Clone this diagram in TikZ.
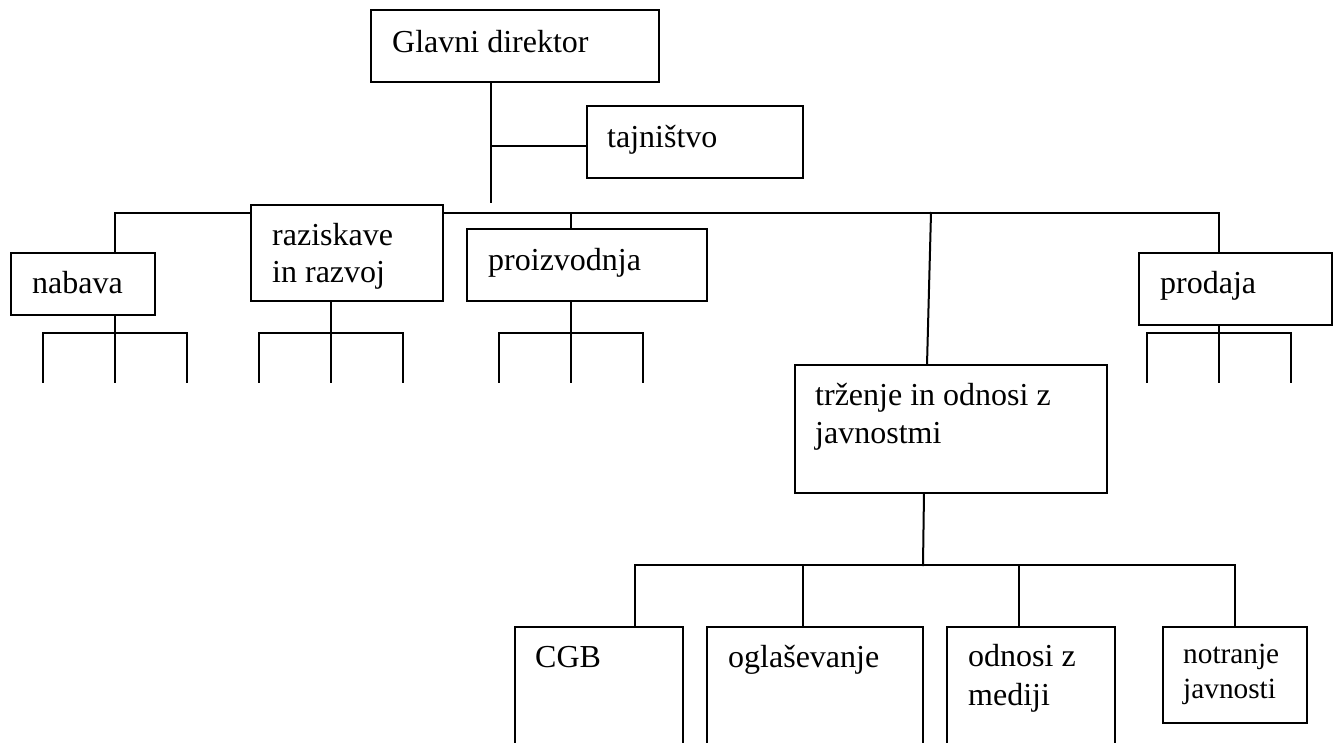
\documentclass[tikz,border=0pt]{standalone}
\usepackage{fontspec}
\setmainfont{Liberation Serif}
\usetikzlibrary{backgrounds}

\tikzset{
  orgbox/.style={draw, fill=white, line width=2pt, inner sep=0pt, outer sep=0pt,
    anchor=north west},
  lbl/.style={inner sep=0pt, anchor=base west, font=\fontsize{32}{38}\selectfont},
  lblsmall/.style={inner sep=0pt, anchor=base west, font=\fontsize{29.3}{35}\selectfont},
  wire/.style={line width=2pt, line cap=rect}
}

% three open branches hanging below a unit box
\newcommand\prongs[2]{%
  \coordinate (#1-bar) at (#2,333);
  \coordinate (#1-m) at (#2,382);
  \coordinate (#1-l) at ({#2-72},382);
  \coordinate (#1-r) at ({#2+72},382);
  \begin{pgfonlayer}{background}
    \draw[wire] (#1.south -| #1-m) -- (#1-m);
    \draw[wire] (#1-l) -- (#1-l |- #1-bar) -- (#1-r |- #1-bar) -- (#1-r);
  \end{pgfonlayer}%
}

\begin{document}
\begin{tikzpicture}[x=1pt, y=-1pt]
  \useasboundingbox (0,0) rectangle (1339,742);
  \clip (0,0) rectangle (1339,742);

  % top management
  \node[orgbox, minimum width=288pt, minimum height=72pt] (gd) at (371,10) {};
  \node[lbl] (gd-t) at (392,52) {Glavni direktor};
  \node[orgbox, minimum width=216pt, minimum height=72pt] (taj) at (587,106) {};
  \node[lbl] (taj-t) at (607,147) {tajništvo};

  % departments
  \node[orgbox, minimum width=144pt, minimum height=62pt] (nab) at (11,253) {};
  \node[lbl] (nab-t) at (32,293) {nabava};
  \node[orgbox, minimum width=192pt, minimum height=96pt] (raz) at (251,205) {};
  \node[lbl] (raz-t1) at (272,245) {raziskave};
  \node[lbl] (raz-t2) at (272,282) {in razvoj};
  \node[orgbox, minimum width=240pt, minimum height=72pt] (pro) at (467,229) {};
  \node[lbl] (pro-t) at (488,270) {proizvodnja};
  \node[orgbox, minimum width=312pt, minimum height=128pt] (trz) at (795,365) {};
  \node[lbl] (trz-t1) at (815,405) {trženje in odnosi z};
  \node[lbl] (trz-t2) at (815,443) {javnostmi};
  \node[orgbox, minimum width=193pt, minimum height=72pt] (prd) at (1139,253) {};
  \node[lbl] (prd-t) at (1160,293) {prodaja};

  % marketing sub-units
  \node[orgbox, minimum width=168pt, minimum height=150pt] (cgb) at (515,627) {};
  \node[lbl] (cgb-t) at (535,667) {CGB};
  \node[orgbox, minimum width=216pt, minimum height=150pt] (ogl) at (707,627) {};
  \node[lbl] (ogl-t) at (728,667) {oglaševanje};
  \node[orgbox, minimum width=168pt, minimum height=150pt] (odn) at (947,627) {};
  \node[lbl] (odn-t1) at (968,666) {odnosi z};
  \node[lbl] (odn-t2) at (968,705) {mediji};
  \node[orgbox, minimum width=144pt, minimum height=96pt] (ntr) at (1163,627) {};
  \node[lblsmall] (ntr-t1) at (1183,663) {notranje};
  \node[lblsmall] (ntr-t2) at (1183,698) {javnosti};

  % junction points
  \coordinate (trunk) at (491,202);
  \coordinate (busL) at (115,213);
  \coordinate (busR) at (1219,213);
  \coordinate (tapPro) at (571,213);
  \coordinate (tapTrz) at (931,213);
  \coordinate (lowTap) at (923,565);
  \coordinate (lowL) at (635,565);
  \coordinate (lowB) at (803,565);
  \coordinate (lowC) at (1019,565);
  \coordinate (lowR) at (1235,565);

  \begin{pgfonlayer}{background}
    \draw[wire] (gd.south -| trunk) -- (trunk);
    \draw[wire] ([yshift=-4pt]taj.west) -- ([yshift=-4pt]taj.west -| trunk);
    \draw[wire] (nab.north -| busL) -- (busL) -- (busR) -- (prd.north -| busR);
    \draw[wire] (tapPro) -- (pro.north -| tapPro);
    \draw[wire] (tapTrz) -- ([xshift=132pt]trz.north west);
    \draw[wire] ([xshift=129pt]trz.south west) -- (lowTap);
    \draw[wire] (cgb.north -| lowL) -- (lowL) -- (lowR) -- (ntr.north -| lowR);
    \draw[wire] (lowB) -- (ogl.north -| lowB);
    \draw[wire] (lowC) -- (odn.north -| lowC);
  \end{pgfonlayer}

  \prongs{nab}{115}
  \prongs{raz}{331}
  \prongs{pro}{571}
  \prongs{prd}{1219}
\end{tikzpicture}
\end{document}
